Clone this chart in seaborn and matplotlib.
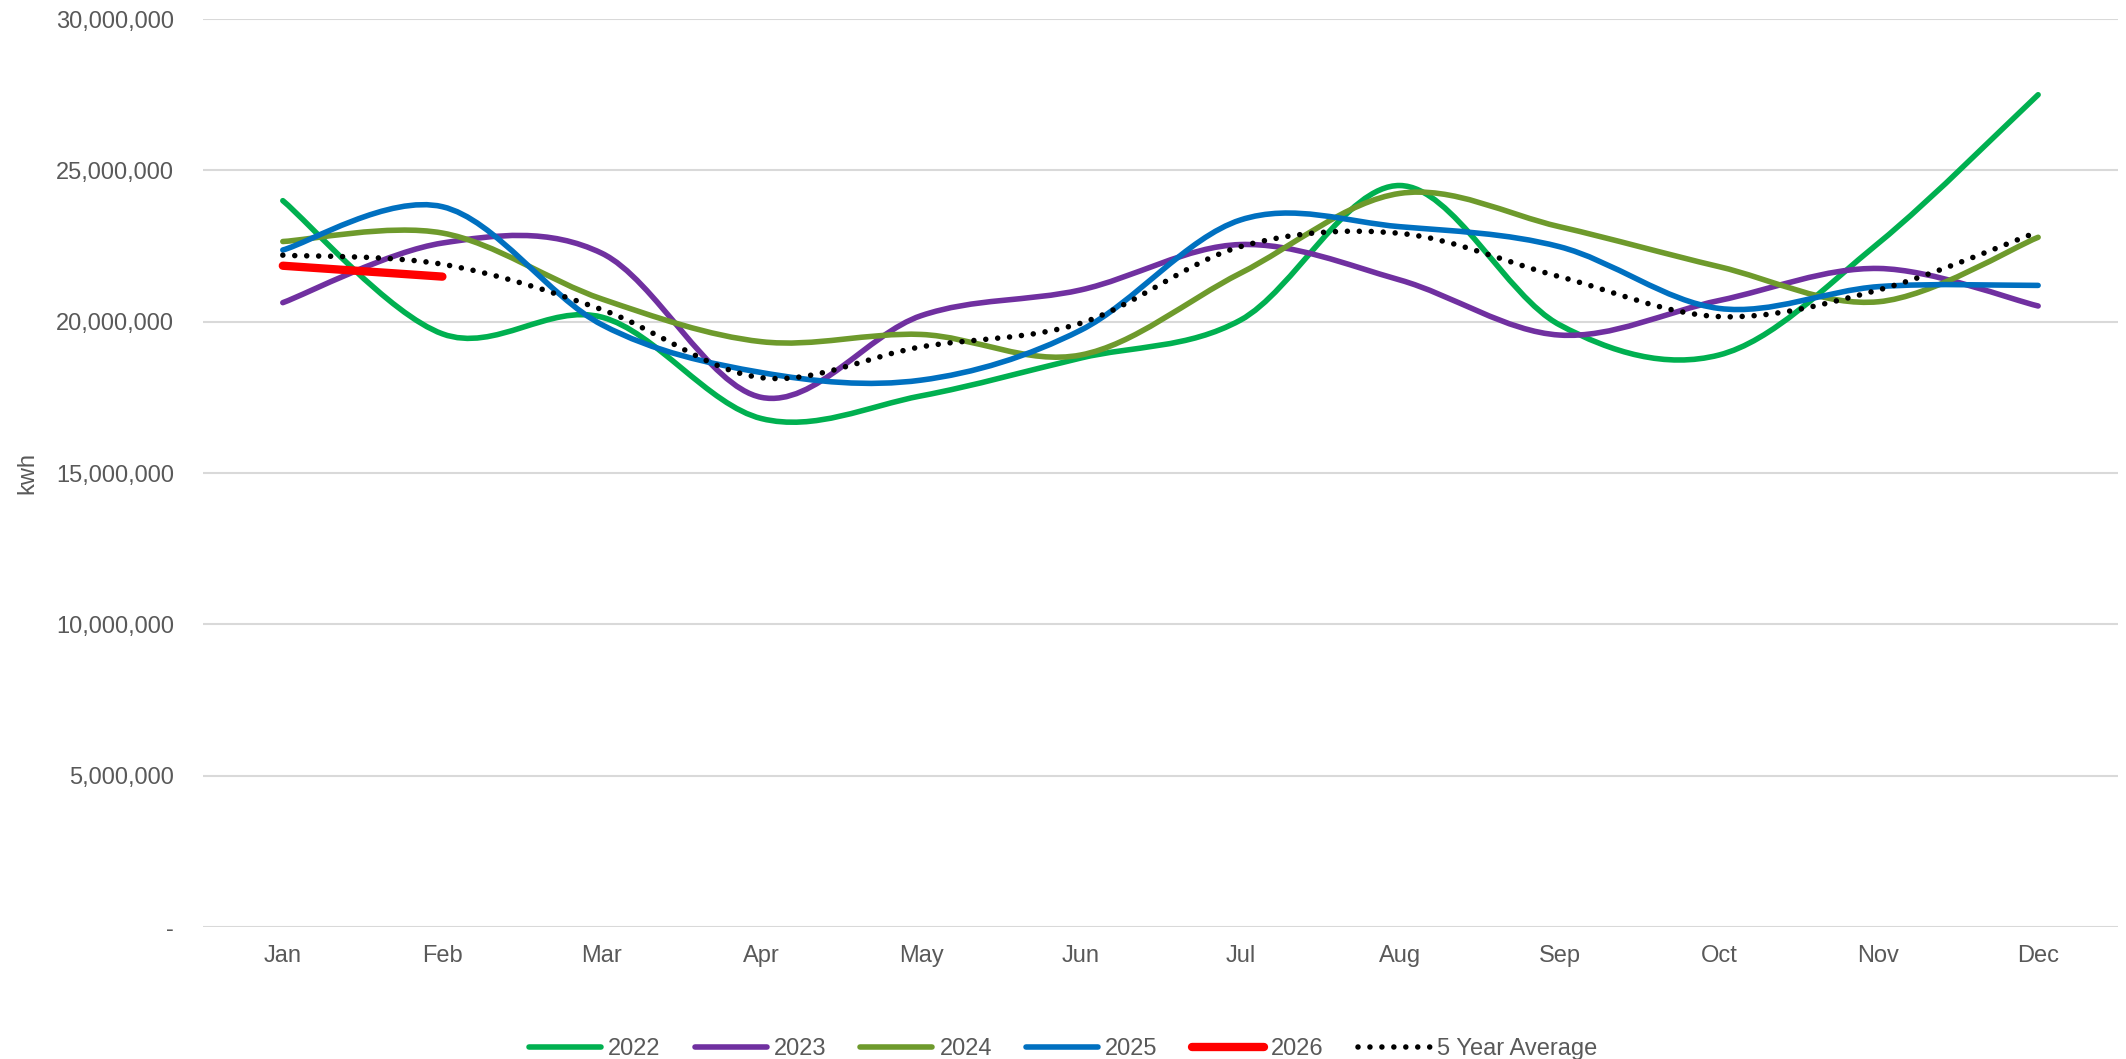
import matplotlib
matplotlib.use("Agg")
import matplotlib.pyplot as plt
from matplotlib.path import Path
from matplotlib.patches import PathPatch
from matplotlib.lines import Line2D
from matplotlib.ticker import FuncFormatter
import seaborn as sns
import numpy as np

# monthly consumption (million kwh)
months = ["Jan", "Feb", "Mar", "Apr", "May", "Jun",
          "Jul", "Aug", "Sep", "Oct", "Nov", "Dec"]
kwh_2022 = [24.0, 19.6, 20.15, 16.8, 17.55, 18.8, 20.05, 24.5, 19.9, 18.9, 22.6, 27.5]
kwh_2023 = [20.63, 22.6, 22.26, 17.5, 20.2, 21.05, 22.55, 21.38, 19.56, 20.7, 21.76, 20.52]
kwh_2024 = [22.65, 22.93, 20.75, 19.34, 19.58, 18.9, 21.6, 24.24, 23.14, 21.82, 20.66, 22.79]
kwh_2025 = [22.37, 23.8, 19.9, 18.32, 18.07, 19.72, 23.36, 23.14, 22.48, 20.44, 21.16, 21.2]
kwh_2026 = [21.85, 21.49]
kwh_avg = [22.2, 21.9, 20.4, 18.15, 19.17, 19.95, 22.48, 22.92, 21.49, 20.17, 21.05, 22.97]

dotted = (0, (0.001, 2.15))
series = [
    ("2022", kwh_2022, "#00B050", 4.0, "-"),
    ("2023", kwh_2023, "#7030A0", 4.0, "-"),
    ("2024", kwh_2024, "#6E9A2C", 4.0, "-"),
    ("2025", kwh_2025, "#0070C0", 4.0, "-"),
    ("2026", kwh_2026, "#FF0000", 6.0, "-"),
    ("5 Year Average", kwh_avg, "#000000", 4.0, dotted),
]


def smooth_path(xs, ys):
    # excel-style smoothed line: cubic bezier through every point
    pts = np.column_stack([xs, ys])
    n = len(pts)
    verts = [pts[0]]
    codes = [Path.MOVETO]
    for i in range(n - 1):
        p0 = pts[max(i - 1, 0)]
        p1 = pts[i]
        p2 = pts[i + 1]
        p3 = pts[min(i + 2, n - 1)]
        verts += [p1 + (p2 - p0) / 6, p2 - (p3 - p1) / 6, p2]
        codes += [Path.CURVE4] * 3
    return Path(verts, codes)


sns.set_style("white")
plt.rcParams["font.family"] = ["Liberation Sans", "DejaVu Sans"]
grey = "#595959"

fig = plt.figure(figsize=(21.26, 10.59), dpi=100)
ax = fig.add_axes([0.0955, 0.1246, 0.9007, 0.8574])

handles = []
for name, vals, color, lw, ls in series:
    x = np.arange(len(vals), dtype=float)
    y = np.array(vals) * 1e6
    patch = PathPatch(smooth_path(x, y), facecolor="none", edgecolor=color,
                      linewidth=lw, linestyle=ls, capstyle="round",
                      joinstyle="round")
    ax.add_patch(patch)
    handles.append(Line2D([0], [0], color=color, linewidth=lw,
                          linestyle=ls, solid_capstyle="round",
                          dash_capstyle="round", label=name))

ax.set_xlim(-0.5, 11.5)
ax.set_ylim(0, 30e6)
ax.set_xticks(range(len(months)))
ax.set_xticklabels(months)
ax.set_yticks(np.arange(0, 30e6 + 1, 5e6))
ax.yaxis.set_major_formatter(FuncFormatter(lambda v, p: "-" if v == 0 else f"{v:,.0f}"))
ax.tick_params(axis="both", length=0, labelsize=17, colors=grey)
ax.tick_params(axis="x", pad=13)
ax.tick_params(axis="y", pad=21)
ax.yaxis.grid(True, color="#D9D9D9", linewidth=1.5)
ax.set_axisbelow(True)
for side in ["top", "right", "left", "bottom"]:
    ax.spines[side].set_visible(False)
ax.set_ylabel("kwh", fontsize=17, color=grey)
ax.yaxis.set_label_coords(-0.086, 0.5)

fig.legend(handles=handles, loc="lower center", ncol=6, frameon=False,
           fontsize=17, handlelength=3.05, handletextpad=0.3, columnspacing=1.45,
           bbox_to_anchor=(0.5, -0.021), labelcolor=grey)

fig.savefig("out.png", dpi=100)
